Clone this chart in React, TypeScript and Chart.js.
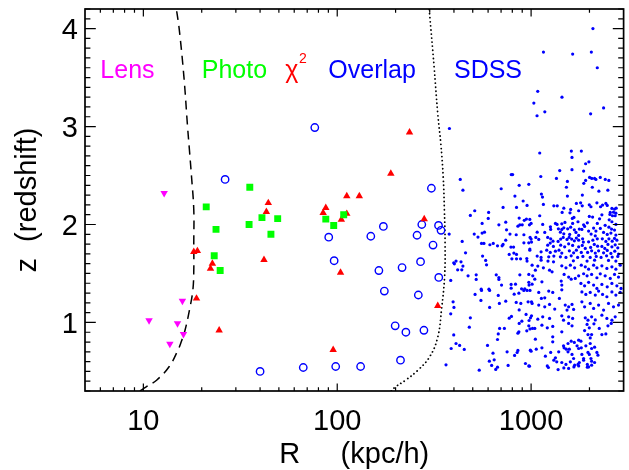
import { useEffect, useRef } from 'react';
import { Chart, registerables } from 'chart.js';

Chart.register(...registerables);

// ---- axis ranges and tick labels ----
const rMin = 5;
const rMax = 3000;
const zMin = 0.3;
const zMax = 4.2;
const xTickValues = [10, 100, 1000];
const xTickLabels = ['10', '100', '1000'];
const yTickValues = [1, 2, 3, 4];
const yTickLabels = ['1', '2', '3', '4'];

// ---- class labels drawn inside the plot (R, z of the text anchor) ----
const classNames = ['Lens', 'Photo', 'χ', 'Overlap', 'SDSS'];
const classColors = ['#ff00ff', '#00ff00', '#ff0000', '#0000ff', '#0000ff'];
const classAnchorR = [6, 20, 54, 90, 400];
const classAnchorZ = 3.5;

// ---- lensed systems ----
const lensR = [12.8, 15.9, 10.7, 15.0, 16.1, 13.7];
const lensZ = [2.32, 1.22, 1.02, 0.99, 0.88, 0.78];

// ---- photometric pairs ----
const photoR = [35.4, 21.1, 40.9, 49.3, 35.1, 23.7, 45.5, 23.2, 24.9, 87.3, 95.9, 108];
const photoZ = [2.38, 2.18, 2.07, 2.06, 2.0, 1.95, 1.9, 1.68, 1.53, 2.055, 1.99, 2.1];

// ---- chi-square pairs ----
const chiR = [44.1, 43.1, 18.2, 19.0, 22.7, 22.2, 41.9, 18.8, 24.6, 236, 189, 112, 130, 87.3, 84.6, 112, 105, 281, 104, 330, 95.3];
const chiZ = [2.22, 2.13, 1.72, 1.73, 1.6, 1.55, 1.64, 1.245, 0.92, 2.94, 2.52, 2.29, 2.29, 2.17, 2.12, 2.11, 2.05, 2.055, 1.51, 1.17, 0.72];

// ---- overlap pairs ----
const overlapR = [26.4, 40.0, 76.6, 306, 173, 149, 90.4, 273, 258, 333, 343, 312, 96.4, 216, 164, 269, 334, 175, 262, 199, 226, 280, 212, 66.8, 98.2, 132];
const overlapZ = [2.46, 0.5, 2.99, 2.37, 1.98, 1.88, 1.87, 2.0, 1.89, 1.99, 1.94, 1.79, 1.63, 1.56, 1.53, 1.62, 1.46, 1.32, 1.28, 0.965, 0.9, 0.92, 0.615, 0.54, 0.55, 0.55];

// ---- SDSS pairs: [R (kpc/h), z] ----
const sdssPairs: [number, number][] = [
  [2084, 4.0], [1158, 3.76], [1638, 3.74], [2045, 3.76], [2195, 3.6], [1082, 3.36], [1443, 3.3], [1033, 3.24], [1177, 3.15], [1073, 3.11],
  [2365, 3.19], [2028, 3.13], [379, 2.98], [1108, 2.73], [1613, 2.75], [1816, 2.75], [1625, 2.685], [1911, 2.62], [1987, 2.64], [803, 2.51],
  [790, 2.51], [1405, 2.55], [1625, 2.56], [1866, 2.545], [431, 2.46], [1122, 2.49], [1351, 2.47], [1539, 2.44], [2003, 2.48], [2055, 2.47],
  [2125, 2.47], [2158, 2.46], [2274, 2.48], [2413, 2.46], [2518, 2.45], [1911, 2.45], [1870, 2.42], [445, 2.35], [701, 2.365], [868, 2.4],
  [973, 2.41], [1521, 2.38], [2069, 2.38], [2237, 2.34], [2488, 2.35], [825, 2.29], [1130, 2.31], [1145, 2.28], [1539, 2.29], [1838, 2.3],
  [910, 2.24], [953, 2.195], [717, 2.174], [841, 2.174], [512, 2.14], [604, 2.123], [486, 2.093], [868, 2.065], [601, 2.062], [946, 2.055],
  [985, 2.052], [922, 2.042], [981, 1.997], [559, 2.011], [682, 1.997], [740, 2.024], [855, 1.983], [875, 1.997], [900, 1.997], [378, 1.902],
  [509, 1.902], [532, 1.871], [559, 1.912], [575, 1.922], [747, 1.946], [778, 1.902], [838, 1.895], [918, 1.895], [555, 1.807], [571, 1.807],
  [613, 1.793], [638, 1.807], [671, 1.782], [709, 1.782], [717, 1.796], [740, 1.84], [787, 1.769], [812, 1.769], [441, 1.827], [918, 1.813],
  [973, 1.813], [1005, 1.82], [985, 1.749], [459, 1.711], [562, 1.677], [771, 1.694], [815, 1.708], [841, 1.694], [796, 1.649], [841, 1.649],
  [882, 1.649], [950, 1.653], [953, 1.626], [410, 1.626], [399, 1.609], [402, 1.598], [435, 1.619], [583, 1.633], [589, 1.588], [418, 1.537],
  [439, 1.537], [445, 1.575], [385, 1.429], [473, 1.476], [521, 1.486], [521, 1.439], [661, 1.486], [682, 1.459], [682, 1.439], [704, 1.381],
  [789, 1.388], [789, 1.35], [831, 1.391], [875, 1.486], [973, 1.49], [1020, 1.476], [893, 1.343], [928, 1.343], [553, 1.34], [606, 1.34],
  [976, 1.381], [514, 1.286], [555, 1.327], [611, 1.327], [551, 1.225], [677, 1.276], [917, 1.327], [953, 1.327], [987, 1.327], [818, 1.289],
  [865, 1.299], [740, 1.217], [686, 1.194], [838, 1.204], [885, 1.194], [965, 1.21], [1012, 1.194], [611, 1.153], [396, 1.21], [400, 1.153],
  [385, 1.088], [486, 1.047], [868, 1.128], [942, 1.082], [771, 1.044], [792, 1.061], [896, 1.013], [976, 1.02], [993, 1.047], [868, 0.99],
  [480, 0.952], [688, 0.939], [728, 0.939], [950, 0.914], [987, 0.934], [1017, 0.939], [855, 0.89], [865, 0.904], [677, 0.883], [399, 0.873],
  [671, 0.826], [410, 0.785], [428, 0.765], [387, 0.734], [452, 0.724], [596, 0.765], [636, 0.686], [752, 0.7], [822, 0.663], [847, 0.693],
  [855, 0.714], [1000, 0.707], [609, 0.604], [645, 0.618], [626, 0.561], [671, 0.543], [657, 0.52], [761, 0.561], [935, 0.581], [981, 0.553],
  [364, 0.567], [540, 0.513],
  [1157, 2.205], [1310, 2.191], [1364, 2.191], [1712, 2.215], [1801, 2.221], [1836, 2.191], [1996, 2.201], [2036, 2.181], [2185, 2.221], [2282, 2.181],
  [2337, 2.198], [2430, 2.215], [2470, 2.195], [1475, 2.167], [1600, 2.154], [1446, 2.123], [1587, 2.119], [1759, 2.14], [2611, 2.164], [2693, 2.157],
  [2747, 2.167], [2560, 2.123], [2661, 2.126], [2737, 2.116], [2318, 2.099], [2550, 2.103], [2630, 2.089], [2715, 2.089], [1108, 2.089], [1632, 2.062],
  [1663, 2.072], [1996, 2.082], [2076, 2.076], [2255, 2.058], [2528, 2.048], [1000, 2.011], [1335, 2.011], [1361, 2.001], [1440, 2.007], [1495, 2.021],
  [1638, 2.011], [1745, 2.028], [1866, 1.997], [1888, 1.98], [1950, 2.017], [2195, 2.011], [2410, 1.991], [2611, 2.028], [2737, 2.001], [1148, 2.001],
  [1258, 1.976], [1383, 1.956], [1440, 1.95], [1475, 1.966], [1544, 1.956], [1600, 1.973], [1671, 1.946], [1773, 1.953], [1828, 1.95], [2101, 1.963],
  [2160, 1.933], [2275, 1.96], [2520, 1.973], [2600, 1.953], [2693, 1.943], [1176, 1.919], [1262, 1.95], [1075, 1.922], [1416, 1.922], [1475, 1.905],
  [1581, 1.899], [1704, 1.919], [1759, 1.888], [1980, 1.933], [2040, 1.902], [2143, 1.884], [2365, 1.919], [2470, 1.899], [2580, 1.912], [2737, 1.892],
  [988, 1.868], [1000, 1.851], [1058, 1.868], [1095, 1.848], [1218, 1.868], [1262, 1.854], [1297, 1.83], [1378, 1.827], [1421, 1.851], [1464, 1.868],
  [1532, 1.848], [1571, 1.868], [1619, 1.851], [1671, 1.833], [1712, 1.861], [1759, 1.84], [1844, 1.854], [1860, 1.82], [1980, 1.823], [2083, 1.84],
  [2195, 1.854], [2330, 1.854], [2430, 1.827], [2520, 1.854], [2620, 1.83], [2693, 1.858], [2770, 1.84], [1218, 1.789], [1255, 1.81], [1303, 1.776],
  [1421, 1.789], [1490, 1.772], [1562, 1.803], [1638, 1.786], [1759, 1.772], [1836, 1.786], [1903, 1.756], [2028, 1.766], [2118, 1.796], [2203, 1.779],
  [2318, 1.776], [2400, 1.756], [2491, 1.796], [2611, 1.772], [2715, 1.792], [2800, 1.762], [985, 1.738], [1126, 1.721], [1204, 1.738], [1255, 1.715],
  [1335, 1.728], [1393, 1.738], [1440, 1.708], [1575, 1.731], [1657, 1.711], [1712, 1.738], [1815, 1.715], [1957, 1.715], [2052, 1.731], [2143, 1.708],
  [2229, 1.731], [2365, 1.711], [2470, 1.735], [2580, 1.705], [2702, 1.728], [2824, 1.698], [1075, 1.677], [1126, 1.664], [1233, 1.67], [1310, 1.677],
  [1416, 1.67], [1513, 1.664], [1610, 1.68], [1738, 1.664], [1850, 1.674], [2018, 1.664], [2168, 1.674], [2296, 1.664], [2451, 1.68], [2620, 1.667],
  [2800, 1.674],
  [1126, 1.636], [1222, 1.626], [1305, 1.619], [1652, 1.629], [1944, 1.626], [2737, 1.626], [2508, 1.633], [2126, 1.636], [1012, 1.585], [1083, 1.575],
  [1157, 1.558], [1245, 1.534], [1283, 1.517], [1440, 1.578], [1513, 1.558], [1594, 1.585], [1677, 1.558], [1815, 1.585], [1903, 1.568], [1980, 1.544],
  [2101, 1.585], [2185, 1.558], [2318, 1.578], [2460, 1.551], [2611, 1.568], [2737, 1.544], [2880, 1.585], [1052, 1.534], [1480, 1.49], [1562, 1.463],
  [1610, 1.442], [1690, 1.449], [1759, 1.476], [1866, 1.497], [1944, 1.476], [2052, 1.49], [2185, 1.456], [2274, 1.496], [2410, 1.476], [2560, 1.449],
  [2693, 1.49], [2824, 1.463], [1045, 1.442], [1137, 1.415], [1430, 1.422], [1440, 1.381], [1807, 1.398], [1888, 1.374], [1980, 1.409], [2101, 1.381],
  [2185, 1.347], [2318, 1.388], [2470, 1.364], [2611, 1.398], [2770, 1.374], [2910, 1.347], [973, 1.409], [1012, 1.391], [1233, 1.32], [1293, 1.306],
  [1095, 1.306], [1130, 1.245], [1176, 1.251], [1440, 1.333], [1399, 1.245], [1828, 1.312], [1916, 1.286], [2018, 1.306], [2143, 1.279], [2229, 1.32],
  [2337, 1.286], [2460, 1.262], [2611, 1.312], [2737, 1.279], [2880, 1.306], [1005, 1.21], [1095, 1.177], [1176, 1.159], [1245, 1.184], [1324, 1.136],
  [1500, 1.177], [1562, 1.159], [1626, 1.184], [1657, 1.133], [1532, 1.126], [1828, 1.21], [1888, 1.159], [2018, 1.194], [2101, 1.143], [2229, 1.177],
  [2365, 1.126], [2508, 1.194], [2661, 1.159], [2824, 1.177], [1005, 1.067], [1083, 1.033], [1148, 1.057], [1245, 1.041], [1440, 1.067], [1470, 1.023],
  [1562, 1.057], [1638, 1.041], [1903, 1.047], [1965, 1.023], [2052, 1.057], [2143, 1.026], [2318, 1.074], [2460, 1.041], [2611, 1.023], [2715, 1.057],
  [973, 0.965], [1045, 0.939], [1137, 0.972], [1212, 0.945], [1293, 0.959], [1562, 0.99], [1626, 0.965], [1944, 0.98], [1996, 0.945], [2109, 0.986],
  [2247, 0.939], [2491, 0.965], [2590, 0.99],
  [1440, 0.904], [1888, 0.917], [1965, 0.876], [2018, 0.842], [2052, 0.876], [2318, 0.876], [2430, 0.883], [1052, 0.829], [1293, 0.853], [1293, 0.802],
  [1550, 0.785], [1610, 0.809], [1671, 0.796], [1759, 0.819], [1807, 0.809], [1470, 0.761], [1480, 0.741], [1519, 0.727], [1575, 0.727], [1726, 0.761],
  [1759, 0.734], [1815, 0.741], [1916, 0.761], [2018, 0.785], [2052, 0.734], [2126, 0.747], [991, 0.717], [1063, 0.727], [1137, 0.741], [1262, 0.694],
  [1388, 0.7], [1550, 0.7], [1626, 0.673], [1657, 0.632], [1828, 0.673], [1866, 0.632], [1965, 0.694], [1996, 0.673], [2036, 0.632], [2052, 0.604],
  [2185, 0.694], [2212, 0.666], [1185, 0.656], [1335, 0.639], [1310, 0.615], [1356, 0.598], [1440, 0.591], [1513, 0.571], [1594, 0.598], [1677, 0.564],
  [1745, 0.571], [1773, 0.591], [1866, 0.615], [1950, 0.571], [1980, 0.546], [2052, 0.564], [2126, 0.591], [973, 0.556], [1212, 0.556], [1228, 0.54],
  [1378, 0.519], [1475, 0.536], [1562, 0.53], [1663, 0.546], [1759, 0.556], [1950, 0.543],
];

// ---- boundary curves ----
const dashedZ = [0.3, 0.34, 0.41, 0.55, 0.72, 0.79, 0.92, 1.13, 1.33, 1.53, 1.81, 2.15, 2.5, 2.75, 3.0, 3.5, 4.0, 4.2];
const dashedR = [9.6, 10.3, 11.7, 13.6, 15.1, 15.6, 16.4, 17.3, 18.0, 18.2, 18.2, 18.2, 17.7, 17.3, 16.9, 16.2, 15.3, 14.8];
const dottedZ = [0.3, 0.34, 0.41, 0.51, 0.65, 0.85, 1.13, 1.47, 1.81, 2.15, 2.49, 2.83, 3.13, 3.61, 4.2];
const dottedR = [190, 199, 225, 260, 300, 330, 345, 358, 360, 357, 352, 342, 330, 316, 298];

const FONT = '"Liberation Sans", Arial, Helvetica, sans-serif';

const pts = (xs: number[], ys: number[]) => xs.map((x, i) => ({ x, y: ys[i] }));

const framePlugin = {
  id: 'idlFrame',
  afterDraw(chart: any) {
    const { ctx, chartArea: a, scales } = chart;
    const xs = scales.x;
    const ys = scales.y;
    ctx.save();
    ctx.strokeStyle = '#000';
    ctx.fillStyle = '#000';

    // tick marks on all four sides, pointing inward
    const xMajorLen = 7.6;
    const yMajorLen = 10.8;
    ctx.lineWidth = 1.2;
    ctx.beginPath();
    for (let d = 0; d <= 4; d++) {
      for (let m = 1; m <= 9; m++) {
        const v = m * Math.pow(10, d);
        if (v <= rMin || v >= rMax) continue;
        const px = xs.getPixelForValue(v);
        const len = m === 1 ? xMajorLen : xMajorLen / 2;
        ctx.moveTo(px, a.bottom);
        ctx.lineTo(px, a.bottom - len);
        ctx.moveTo(px, a.top);
        ctx.lineTo(px, a.top + len);
      }
    }
    for (let i = Math.round(zMin * 10); i <= Math.round(zMax * 10); i++) {
      const v = i / 10;
      const py = ys.getPixelForValue(v);
      const len = i % 10 === 0 ? yMajorLen : yMajorLen / 2;
      ctx.moveTo(a.left, py);
      ctx.lineTo(a.left + len, py);
      ctx.moveTo(a.right, py);
      ctx.lineTo(a.right - len, py);
    }
    ctx.stroke();

    // frame
    ctx.lineWidth = 1.7;
    ctx.strokeRect(a.left, a.top, a.right - a.left, a.bottom - a.top);

    // tick labels
    ctx.font = `29px ${FONT}`;
    ctx.textBaseline = 'alphabetic';
    ctx.textAlign = 'center';
    xTickValues.forEach((v, i) => {
      ctx.fillText(xTickLabels[i], xs.getPixelForValue(v), a.bottom + 39);
    });
    ctx.textAlign = 'right';
    yTickValues.forEach((v, i) => {
      ctx.fillText(yTickLabels[i], a.left - 7, ys.getPixelForValue(v) + 10.4);
    });

    // axis titles
    ctx.textAlign = 'center';
    ctx.fillText('R     (kpc/h)', (a.left + a.right) / 2, 463);
    ctx.save();
    ctx.translate(36, (a.top + a.bottom) / 2);
    ctx.rotate(-Math.PI / 2);
    ctx.fillText('z  (redshift)', 0, 0);
    ctx.restore();

    // class labels
    ctx.textAlign = 'left';
    ctx.font = `25px ${FONT}`;
    const by = ys.getPixelForValue(classAnchorZ);
    classNames.forEach((name, i) => {
      ctx.fillStyle = classColors[i];
      const px = xs.getPixelForValue(classAnchorR[i]);
      ctx.fillText(name, px, by);
      if (name === 'χ') {
        const w = ctx.measureText(name).width;
        ctx.font = `14px ${FONT}`;
        ctx.fillText('2', px + w + 0.5, by - 15);
        ctx.font = `25px ${FONT}`;
      }
    });
    ctx.restore();
  },
};

export default function App() {
  const ref = useRef<HTMLCanvasElement>(null);

  useEffect(() => {
    document.body.style.margin = '0';
    const canvas = ref.current;
    if (!canvas) return;
    const chart = new Chart(canvas, {
      type: 'scatter',
      data: {
        datasets: [
          {
            label: 'Lens',
            data: pts(lensR, lensZ),
            pointStyle: 'triangle',
            rotation: 180,
            pointRadius: 4.3,
            backgroundColor: '#ff00ff',
            borderWidth: 0,
            order: 0,
          },
          {
            label: 'Photo',
            data: pts(photoR, photoZ),
            pointStyle: 'rect',
            pointRadius: 4.9,
            backgroundColor: '#00ff00',
            borderWidth: 0,
            order: 1,
          },
          {
            label: 'chi2',
            data: pts(chiR, chiZ),
            pointStyle: 'triangle',
            pointRadius: 4.3,
            backgroundColor: '#ff0000',
            borderWidth: 0,
            order: 2,
          },
          {
            label: 'Overlap',
            data: pts(overlapR, overlapZ),
            pointStyle: 'circle',
            pointRadius: 3.7,
            backgroundColor: 'rgba(0,0,0,0)',
            borderColor: '#0000ff',
            borderWidth: 1.4,
            order: 3,
          },
          {
            label: 'SDSS',
            data: sdssPairs.map(([x, y]) => ({ x, y })),
            pointStyle: 'circle',
            pointRadius: 1.6,
            backgroundColor: '#0000ff',
            borderWidth: 0,
            order: 4,
          },
          {
            label: 'inner limit',
            data: pts(dashedR, dashedZ),
            showLine: true,
            pointRadius: 0,
            borderColor: '#000',
            borderWidth: 1.5,
            borderDash: [9, 6],
            tension: 0.4,
            order: 5,
          },
          {
            label: 'outer limit',
            data: pts(dottedR, dottedZ),
            showLine: true,
            pointRadius: 0,
            borderColor: '#000',
            borderWidth: 1.8,
            borderDash: [0.1, 4],
            borderCapStyle: 'round',
            tension: 0.4,
            order: 6,
          },
        ] as any,
      },
      options: {
        animation: false,
        responsive: false,
        devicePixelRatio: 1,
        events: [],
        layout: { padding: { left: 85, right: 4, top: 9, bottom: 79 } },
        plugins: { legend: { display: false }, tooltip: { enabled: false } },
        scales: {
          x: { type: 'logarithmic', min: rMin, max: rMax, display: false },
          y: { type: 'linear', min: zMin, max: zMax, display: false },
        },
      },
      plugins: [framePlugin],
    });
    return () => chart.destroy();
  }, []);

  return <canvas ref={ref} width={629} height={470} style={{ display: 'block' }} />;
}
